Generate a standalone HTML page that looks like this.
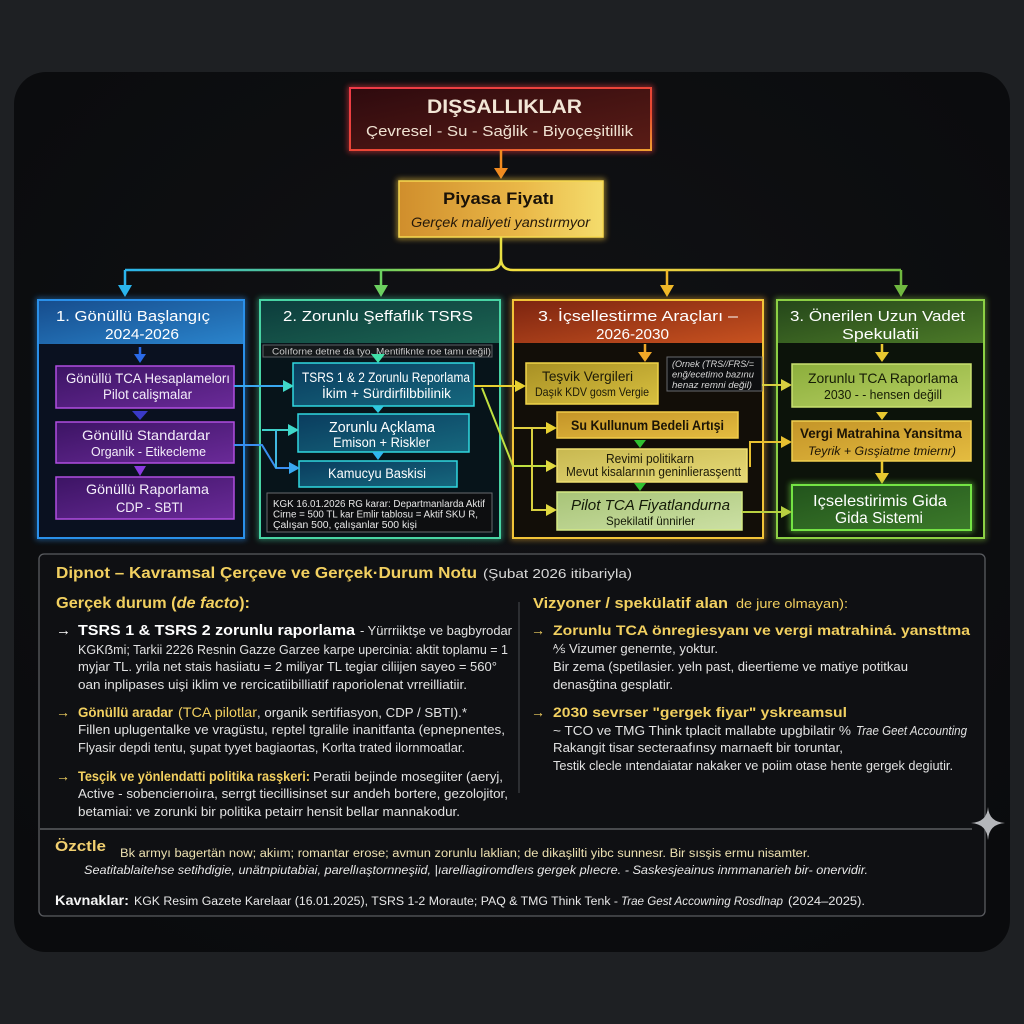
<!DOCTYPE html>
<html><head><meta charset="utf-8"><style>
html,body{margin:0;padding:0;background:#1e2023;}
svg{display:block;}
text{font-family:"Liberation Sans","DejaVu Sans",sans-serif;}
</style></head><body>
<svg width="1024" height="1024" viewBox="0 0 1024 1024" xmlns="http://www.w3.org/2000/svg">
<defs>
<filter id="glow" x="-20%" y="-20%" width="140%" height="140%"><feGaussianBlur stdDeviation="3"/></filter>
<linearGradient id="gRed" x1="0" y1="0" x2="1" y2="1"><stop offset="0" stop-color="#2e0a0e"/><stop offset="1" stop-color="#5a1c16"/></linearGradient>
<linearGradient id="gRedS" x1="0" y1="0" x2="1" y2="1"><stop offset="0" stop-color="#f03a48"/><stop offset="0.7" stop-color="#e84a30"/><stop offset="1" stop-color="#f0a030"/></linearGradient>
<linearGradient id="gGold" x1="0" y1="0" x2="1" y2="0"><stop offset="0" stop-color="#d08e2c"/><stop offset="0.6" stop-color="#eab848"/><stop offset="1" stop-color="#f4dc6c"/></linearGradient>
<linearGradient id="gConn" gradientUnits="userSpaceOnUse" x1="125" y1="0" x2="901" y2="0"><stop offset="0" stop-color="#2ab4ec"/><stop offset="0.33" stop-color="#6cd060"/><stop offset="0.5" stop-color="#f4e040"/><stop offset="0.72" stop-color="#e8d040"/><stop offset="1" stop-color="#70b840"/></linearGradient>
<linearGradient id="h1" x1="0" y1="0" x2="1" y2="1"><stop offset="0" stop-color="#164c8c"/><stop offset="1" stop-color="#2a84cc"/></linearGradient>
<linearGradient id="h2" x1="0" y1="0" x2="1" y2="1"><stop offset="0" stop-color="#0c3c3c"/><stop offset="1" stop-color="#1c6452"/></linearGradient>
<linearGradient id="h3" x1="0" y1="0" x2="1" y2="1"><stop offset="0" stop-color="#7c2410"/><stop offset="1" stop-color="#c85220"/></linearGradient>
<linearGradient id="h4" x1="0" y1="0" x2="1" y2="1"><stop offset="0" stop-color="#24461a"/><stop offset="1" stop-color="#4c7a28"/></linearGradient>
<linearGradient id="bP" x1="0" y1="0" x2="1" y2="1"><stop offset="0" stop-color="#3c1464"/><stop offset="1" stop-color="#6a2a98"/></linearGradient>
<linearGradient id="bT" x1="0" y1="0" x2="1" y2="1"><stop offset="0" stop-color="#0a3c5e"/><stop offset="1" stop-color="#16687e"/></linearGradient>
<linearGradient id="bY" x1="0" y1="0" x2="1" y2="1"><stop offset="0" stop-color="#a89024"/><stop offset="1" stop-color="#d8c040"/></linearGradient>
<linearGradient id="bG" x1="0" y1="0" x2="1" y2="1"><stop offset="0" stop-color="#c49428"/><stop offset="1" stop-color="#e4bc40"/></linearGradient>
<linearGradient id="bLY" x1="0" y1="0" x2="1" y2="1"><stop offset="0" stop-color="#c8b850"/><stop offset="1" stop-color="#e6da78"/></linearGradient>
<linearGradient id="bLG" x1="0" y1="0" x2="1" y2="1"><stop offset="0" stop-color="#a8c478"/><stop offset="1" stop-color="#cce0a4"/></linearGradient>
<linearGradient id="bZG" x1="0" y1="0" x2="1" y2="1"><stop offset="0" stop-color="#8cae3c"/><stop offset="1" stop-color="#b8d064"/></linearGradient>
<linearGradient id="bDG" x1="0" y1="0" x2="1" y2="1"><stop offset="0" stop-color="#22541c"/><stop offset="1" stop-color="#3c7a2a"/></linearGradient>
<radialGradient id="panel" cx="0.5" cy="0.4" r="0.7"><stop offset="0" stop-color="#111215"/><stop offset="1" stop-color="#0a0b0d"/></radialGradient>
</defs>

<rect x="0" y="0" width="1024" height="1024" fill="#1e2023"/>
<rect x="14" y="72" width="996" height="880" rx="32" fill="url(#panel)"/>

<!-- Top box -->
<rect x="350" y="88" width="301" height="62" fill="none" stroke="#f03a40" stroke-width="4" filter="url(#glow)" opacity="0.7"/>
<rect x="350" y="88" width="301" height="62" fill="url(#gRed)" stroke="url(#gRedS)" stroke-width="2"/>
<text x="427" y="113" font-size="19" font-weight="bold" fill="#f2e6d6" textLength="155" lengthAdjust="spacingAndGlyphs">DIŞSALLIKLAR</text>
<text x="366" y="136" font-size="15" fill="#f0e2d2" textLength="267" lengthAdjust="spacingAndGlyphs">Çevresel - Su - Sağlik - Biyoçeşitillik</text>

<line x1="501" y1="150" x2="501" y2="170" stroke="#f08a20" stroke-width="2.5"/>
<polygon points="494,168 508,168 501,179" fill="#f08a20"/>

<!-- Piyasa -->
<rect x="399" y="181" width="204" height="56" fill="none" stroke="#f5c840" stroke-width="4" filter="url(#glow)" opacity="0.7"/>
<rect x="399" y="181" width="204" height="56" fill="url(#gGold)" stroke="#f6d850" stroke-width="1.5"/>
<text x="443" y="204" font-size="17" font-weight="bold" fill="#1a1208" textLength="111" lengthAdjust="spacingAndGlyphs">Piyasa Fiyatı</text>
<text x="411" y="227" font-size="14" font-style="italic" fill="#24180a" textLength="179" lengthAdjust="spacingAndGlyphs">Gerçek maliyeti yanstırmyor</text>

<!-- main connector -->
<path d="M501,237 V258 Q501,270 489,270 H125 M501,258 Q501,270 513,270 H901" fill="none" stroke="url(#gConn)" stroke-width="2.5"/>
<line x1="125" y1="270" x2="125" y2="288" stroke="#2ab4ec" stroke-width="2.5"/>
<polygon points="118,285 132,285 125,297" fill="#2ab4ec"/>
<line x1="381" y1="270" x2="381" y2="288" stroke="#6cd060" stroke-width="2.5"/>
<polygon points="374,285 388,285 381,297" fill="#6cd060"/>
<line x1="667" y1="270" x2="667" y2="288" stroke="#f0b828" stroke-width="2.5"/>
<polygon points="660,285 674,285 667,297" fill="#f0b828"/>
<line x1="901" y1="270" x2="901" y2="288" stroke="#70b840" stroke-width="2.5"/>
<polygon points="894,285 908,285 901,297" fill="#70b840"/>

<!-- Column 1 -->
<rect x="38" y="300" width="206" height="238" fill="none" stroke="#2a8ee8" stroke-width="4" filter="url(#glow)" opacity="0.6"/>
<rect x="38" y="300" width="206" height="238" fill="#0a1120"/>
<rect x="38" y="300" width="206" height="44" fill="url(#h1)"/>
<rect x="38" y="300" width="206" height="238" fill="none" stroke="#2a90ea" stroke-width="2"/>
<text x="56" y="321" font-size="15" fill="#ffffff" textLength="154" lengthAdjust="spacingAndGlyphs">1. Gönüllü Başlangıç</text>
<text x="105" y="339" font-size="15" fill="#ffffff" textLength="74" lengthAdjust="spacingAndGlyphs">2024-2026</text>
<line x1="140" y1="347" x2="140" y2="356" stroke="#2a6ae8" stroke-width="2.5"/>
<polygon points="134,354 146,354 140,363" fill="#2a6ae8"/>

<rect x="56" y="366" width="178" height="42" fill="url(#bP)" stroke="#b04ee0" stroke-width="1.5"/>
<text x="66" y="383" font-size="13.5" fill="#f4eefa" textLength="164" lengthAdjust="spacingAndGlyphs">Gönüllü TCA Hesaplamelorı</text>
<text x="103" y="399" font-size="13.5" fill="#f4eefa" textLength="89" lengthAdjust="spacingAndGlyphs">Pilot calişmalar</text>
<polygon points="132,411 148,411 140,420" fill="#3a3ac8"/>

<rect x="56" y="422" width="178" height="41" fill="url(#bP)" stroke="#b04ee0" stroke-width="1.5"/>
<text x="82" y="440" font-size="14" fill="#f4eefa" textLength="128" lengthAdjust="spacingAndGlyphs">Gönüllü Standardar</text>
<text x="91" y="456" font-size="12.5" fill="#f4eefa" textLength="115" lengthAdjust="spacingAndGlyphs">Organik - Etikecleme</text>
<polygon points="134,466 146,466 140,476" fill="#8a3ae0"/>

<rect x="56" y="477" width="178" height="42" fill="url(#bP)" stroke="#b04ee0" stroke-width="1.5"/>
<text x="86" y="494" font-size="14" fill="#f4eefa" textLength="123" lengthAdjust="spacingAndGlyphs">Gönüllü Raporlama</text>
<text x="116" y="512" font-size="14" fill="#f4eefa" textLength="67" lengthAdjust="spacingAndGlyphs">CDP - SBTI</text>

<!-- Column 2 -->
<rect x="260" y="300" width="240" height="238" fill="none" stroke="#40d0a0" stroke-width="4" filter="url(#glow)" opacity="0.6"/>
<rect x="260" y="300" width="240" height="238" fill="#07141a"/>
<rect x="260" y="300" width="240" height="43" fill="url(#h2)"/>
<rect x="260" y="300" width="240" height="238" fill="none" stroke="#48d4a4" stroke-width="2"/>
<text x="283" y="321" font-size="15" fill="#ffffff" textLength="190" lengthAdjust="spacingAndGlyphs">2. Zorunlu Şeffaflık TSRS</text>
<rect x="263" y="345" width="229" height="12" fill="#14181a" stroke="#5c6064" stroke-width="1"/>
<text x="272" y="354.5" font-size="9.5" fill="#c8c8c8" textLength="219" lengthAdjust="spacingAndGlyphs">Colıforne detne da tyo. Mentifiknte roe tamı değil)</text>
<polygon points="371,354 385,354 378,363" fill="#40e0a8"/>

<rect x="293" y="363" width="181" height="43" fill="url(#bT)" stroke="#30d8e0" stroke-width="1.5"/>
<text x="302" y="382" font-size="13.5" fill="#ffffff" textLength="168" lengthAdjust="spacingAndGlyphs">TSRS 1 &amp; 2 Zorunlu Reporlama</text>
<text x="322" y="398" font-size="13.5" fill="#ffffff" textLength="129" lengthAdjust="spacingAndGlyphs">İkim + Sürdirfilbbilinik</text>
<polygon points="372,406 384,406 378,413" fill="#30c8e0"/>

<rect x="298" y="414" width="171" height="38" fill="url(#bT)" stroke="#30d8e0" stroke-width="1.5"/>
<text x="329" y="432" font-size="14.5" fill="#ffffff" textLength="106" lengthAdjust="spacingAndGlyphs">Zorunlu Açklama</text>
<text x="333" y="447" font-size="14" fill="#ffffff" textLength="97" lengthAdjust="spacingAndGlyphs">Emison + Riskler</text>
<polygon points="372,452 384,452 378,460" fill="#30b8f0"/>

<rect x="299" y="461" width="158" height="26" fill="url(#bT)" stroke="#30d8e0" stroke-width="1.5"/>
<text x="328" y="478" font-size="13.5" fill="#ffffff" textLength="98" lengthAdjust="spacingAndGlyphs">Kamucyu Baskisi</text>

<rect x="267" y="493" width="225" height="39" fill="#0d0e10" stroke="#686a6e" stroke-width="1"/>
<text x="273" y="507" font-size="10" fill="#e8e8e8" textLength="212" lengthAdjust="spacingAndGlyphs">KGK 16.01.2026 RG karar: Departmanlarda Aktif</text>
<text x="273" y="517.5" font-size="10" fill="#e8e8e8" textLength="205" lengthAdjust="spacingAndGlyphs">Cirne = 500 TL kar Emlir tablosu = Aktif SKU R,</text>
<text x="273" y="528" font-size="10" fill="#e8e8e8" textLength="144" lengthAdjust="spacingAndGlyphs">Çalışan 500, çalışanlar 500 kişi</text>

<!-- connectors col1 -> col2 -->
<g fill="none" stroke-width="2">
<path d="M234,386 H285" stroke="#3aa8f0"/>
<path d="M234,445 H262 L276,468 H291" stroke="#3a8ef0"/>
<path d="M262,430 H290" stroke="#40d0c8"/>
<path d="M276,430 V468" stroke="#40b8e0"/>
</g>
<polygon points="283,380 283,392 294,386" fill="#40d8c8"/>
<polygon points="288,424 288,436 299,430" fill="#40d8c8"/>
<polygon points="289,462 289,474 300,468" fill="#3aa8f0"/>

<!-- Column 3 -->
<rect x="513" y="300" width="250" height="238" fill="none" stroke="#f0b030" stroke-width="4" filter="url(#glow)" opacity="0.6"/>
<rect x="513" y="300" width="250" height="238" fill="#120e08"/>
<rect x="513" y="300" width="250" height="43" fill="url(#h3)"/>
<rect x="513" y="300" width="250" height="238" fill="none" stroke="#f2c438" stroke-width="2"/>
<text x="538" y="321" font-size="15" fill="#ffffff" textLength="200" lengthAdjust="spacingAndGlyphs">3. İçsellestirme Araçları –</text>
<text x="596" y="339" font-size="15" fill="#ffffff" textLength="73" lengthAdjust="spacingAndGlyphs">2026-2030</text>
<line x1="645" y1="344" x2="645" y2="354" stroke="#f0a828" stroke-width="2.5"/>
<polygon points="638,352 652,352 645,362" fill="#f0a828"/>

<rect x="526" y="363" width="132" height="41" fill="url(#bY)" stroke="#f0d448" stroke-width="1.5"/>
<text x="542" y="381" font-size="14" fill="#1c1a08" textLength="91" lengthAdjust="spacingAndGlyphs">Teşvik Vergileri</text>
<text x="535" y="396" font-size="12" fill="#1c1a08" textLength="114" lengthAdjust="spacingAndGlyphs">Daşık KDV gosm Vergie</text>

<rect x="667" y="357" width="95" height="34" fill="#0d0e10" stroke="#686a6e" stroke-width="1"/>
<text x="672" y="367" font-size="9" font-style="italic" fill="#d8d8d8" textLength="82" lengthAdjust="spacingAndGlyphs">(Ornek (TRS//FRS/=</text>
<text x="672" y="377.5" font-size="9" font-style="italic" fill="#d8d8d8" textLength="82" lengthAdjust="spacingAndGlyphs">enğ/ecetimo bazınu</text>
<text x="672" y="388" font-size="9" font-style="italic" fill="#d8d8d8" textLength="80" lengthAdjust="spacingAndGlyphs">henaz remni değil)</text>

<rect x="557" y="412" width="181" height="26" fill="url(#bG)" stroke="#f2cc48" stroke-width="1.5"/>
<text x="571" y="430" font-size="14" font-weight="bold" fill="#1c1406" textLength="153" lengthAdjust="spacingAndGlyphs">Su Kullunum Bedeli Artışi</text>
<polygon points="634,440 646,440 640,448" fill="#30c030"/>

<rect x="557" y="449" width="190" height="33" fill="url(#bLY)" stroke="#f0e070" stroke-width="1.5"/>
<text x="606" y="463" font-size="12.5" fill="#1c1a08" textLength="88" lengthAdjust="spacingAndGlyphs">Revimi politikarn</text>
<text x="566" y="476" font-size="12.5" fill="#1c1a08" textLength="175" lengthAdjust="spacingAndGlyphs">Mevut kisalarının geninlierasşentt</text>
<polygon points="634,483 646,483 640,491" fill="#30c030"/>

<rect x="557" y="492" width="185" height="38" fill="url(#bLG)" stroke="#d4ea84" stroke-width="1.5"/>
<text x="571" y="510" font-size="15" font-style="italic" fill="#141a08" textLength="159" lengthAdjust="spacingAndGlyphs">Pilot TCA Fiyatlandurna</text>
<text x="606" y="525" font-size="12" fill="#141a08" textLength="89" lengthAdjust="spacingAndGlyphs">Spekilatif ünnirler</text>

<!-- connectors col2 -> col3 -->
<g fill="none" stroke-width="2">
<path d="M474,386 H518" stroke="#e8d030"/>
<path d="M482,388 L513,466 H549" stroke="#c0e040"/>
<path d="M513,428 H549" stroke="#e0d040"/>
<path d="M532,428 V510 H549" stroke="#d8d040"/>
</g>
<polygon points="515,380 515,392 526,386" fill="#e8d030"/>
<polygon points="546,422 546,434 557,428" fill="#e8d030"/>
<polygon points="546,460 546,472 557,466" fill="#e0d840"/>
<polygon points="546,504 546,516 557,510" fill="#e0d840"/>

<!-- Column 4 -->
<rect x="777" y="300" width="207" height="238" fill="none" stroke="#88cc40" stroke-width="4" filter="url(#glow)" opacity="0.6"/>
<rect x="777" y="300" width="207" height="238" fill="#0c130a"/>
<rect x="777" y="300" width="207" height="43" fill="url(#h4)"/>
<rect x="777" y="300" width="207" height="238" fill="none" stroke="#8cd044" stroke-width="2"/>
<text x="790" y="321" font-size="15" fill="#ffffff" textLength="175" lengthAdjust="spacingAndGlyphs">3. Önerilen Uzun Vadet</text>
<text x="842" y="339" font-size="15" fill="#ffffff" textLength="77" lengthAdjust="spacingAndGlyphs">Spekulatii</text>
<line x1="882" y1="344" x2="882" y2="354" stroke="#e8c830" stroke-width="2.5"/>
<polygon points="875,352 889,352 882,362" fill="#e8c830"/>

<rect x="792" y="364" width="179" height="43" fill="url(#bZG)" stroke="#c8e070" stroke-width="1.5"/>
<text x="808" y="383" font-size="14" fill="#161c06" textLength="150" lengthAdjust="spacingAndGlyphs">Zorunlu TCA Raporlama</text>
<text x="824" y="399" font-size="12.5" fill="#161c06" textLength="118" lengthAdjust="spacingAndGlyphs">2030 - - hensen değill</text>
<polygon points="876,412 888,412 882,420" fill="#e8c830"/>

<rect x="792" y="421" width="179" height="40" fill="url(#bG)" stroke="#f0d050" stroke-width="1.5"/>
<text x="800" y="438" font-size="14" font-weight="bold" fill="#1c1406" textLength="162" lengthAdjust="spacingAndGlyphs">Vergi Matrahina Yansitma</text>
<text x="808" y="455" font-size="12" font-style="italic" fill="#1c1406" textLength="148" lengthAdjust="spacingAndGlyphs">Teyrik + Gısşiatme tmiernr)</text>
<line x1="882" y1="461" x2="882" y2="475" stroke="#e8c830" stroke-width="2.5"/>
<polygon points="875,473 889,473 882,484" fill="#e8c830"/>

<rect x="792" y="485" width="179" height="45" fill="none" stroke="#70e040" stroke-width="4" filter="url(#glow)" opacity="0.7"/>
<rect x="792" y="485" width="179" height="45" fill="url(#bDG)" stroke="#74e444" stroke-width="2"/>
<text x="813" y="506" font-size="16" fill="#ffffff" textLength="134" lengthAdjust="spacingAndGlyphs">Içselestirimis Gida</text>
<text x="835" y="523" font-size="16" fill="#ffffff" textLength="88" lengthAdjust="spacingAndGlyphs">Gida Sistemi</text>

<!-- connectors col3 -> col4 -->
<g fill="none" stroke-width="2">
<path d="M762,385 H784" stroke="#d8d040"/>
<path d="M750,467 V442 H784" stroke="#e8c030"/>
<path d="M742,512 H784" stroke="#b8d040"/>
</g>
<polygon points="781,379 781,391 792,385" fill="#d8d040"/>
<polygon points="781,436 781,448 792,442" fill="#e8c030"/>
<polygon points="781,506 781,518 792,512" fill="#b8d040"/>

<!-- Footnote panel -->
<rect x="39" y="554" width="946" height="362" rx="5" fill="#0f1013" stroke="#5a5c60" stroke-width="1.3"/>
<line x1="40" y1="829" x2="972" y2="829" stroke="#6a6c70" stroke-width="1.3"/>
<line x1="519" y1="602" x2="519" y2="793" stroke="#3c3e42" stroke-width="1.3"/>
<path d="M988,807 Q989,822 1005,823 Q989,824 988,840 Q987,824 971,823 Q987,822 988,807 Z" fill="#b4b6ba"/>

<text x="56" y="578" font-size="16" font-weight="bold" fill="#f2d060" textLength="421" lengthAdjust="spacingAndGlyphs">Dipnot – Kavramsal Çerçeve ve Gerçek·Durum Notu</text>
<text x="483" y="578" font-size="13" fill="#d8d8d8" textLength="149" lengthAdjust="spacingAndGlyphs">(Şubat 2026 itibariyla)</text>

<text x="56" y="608" font-size="16" font-weight="bold" fill="#f2d060" textLength="194" lengthAdjust="spacingAndGlyphs">Gerçek durum (<tspan font-style="italic">de facto</tspan>):</text>

<g font-size="12.5" fill="#e2e2e2">
<text x="56" y="635" font-size="15" font-weight="bold" fill="#ffffff">→</text>
<text x="78" y="635" font-size="15" font-weight="bold" fill="#ffffff" textLength="277" lengthAdjust="spacingAndGlyphs">TSRS 1 &amp; TSRS 2 zorunlu raporlama</text>
<text x="360" y="635" textLength="152" lengthAdjust="spacingAndGlyphs">- Yürrriiktşe ve bagbyrodar</text>
<text x="78" y="654" textLength="430" lengthAdjust="spacingAndGlyphs">KGKẞmi; Tarkii 2226 Resnin Gazze Garzee karpe upercinia: aktit toplamu = 1</text>
<text x="78" y="671" textLength="419" lengthAdjust="spacingAndGlyphs">myjar TL. yrila net stais hasiiatu = 2 miliyar TL tegiar ciliijen sayeo = 560°</text>
<text x="78" y="689" textLength="389" lengthAdjust="spacingAndGlyphs">oan inplipases uişi iklim ve rercicatiibilliatif raporiolenat vrreilliatiir.</text>

<text x="56" y="717" font-size="14" font-weight="bold" fill="#f2d060">→</text>
<text x="78" y="717" font-size="14" font-weight="bold" fill="#f2d060" textLength="95" lengthAdjust="spacingAndGlyphs">Gönüllü aradar</text>
<text x="178" y="717" font-size="14" fill="#f2d060" textLength="79" lengthAdjust="spacingAndGlyphs">(TCA pilotlar</text>
<text x="257" y="717" font-size="13" textLength="210" lengthAdjust="spacingAndGlyphs">, organik sertifiasyon, CDP / SBTI).*</text>
<text x="78" y="734" textLength="427" lengthAdjust="spacingAndGlyphs">Fillen uplugentalke ve vragüstu, reptel tgralile inanitfanta (epnepnentes,</text>
<text x="78" y="752" textLength="387" lengthAdjust="spacingAndGlyphs">Flyasir depdi tentu, şupat tyyet bagiaortas, Korlta trated ilornmoatlar.</text>

<text x="56" y="781" font-size="14" font-weight="bold" fill="#f2d060">→</text>
<text x="78" y="781" font-size="14" font-weight="bold" fill="#f2d060" textLength="232" lengthAdjust="spacingAndGlyphs">Tesçik ve yönlendatti politika rasşkeri:</text>
<text x="313" y="781" font-size="13" textLength="190" lengthAdjust="spacingAndGlyphs">Peratii bejinde mosegiiter (aeryj,</text>
<text x="78" y="798" textLength="430" lengthAdjust="spacingAndGlyphs">Active - sobencierıoiıra, serrgt tiecillisinset sur andeh bortere, gezolojitor,</text>
<text x="78" y="816" textLength="382" lengthAdjust="spacingAndGlyphs">betamiai: ve zorunki bir politika petairr hensit bellar mannakodur.</text>
</g>

<text x="533" y="608" font-size="15" font-weight="bold" fill="#f2d060" textLength="195" lengthAdjust="spacingAndGlyphs">Vizyoner / spekülatif alan</text>
<text x="736" y="608" font-size="12.5" fill="#f2d060" textLength="112" lengthAdjust="spacingAndGlyphs">de jure olmayan):</text>

<g font-size="12.5" fill="#e2e2e2">
<text x="531" y="635" font-size="14" font-weight="bold" fill="#f2d060">→</text>
<text x="553" y="635" font-size="14" font-weight="bold" fill="#f2d060" textLength="417" lengthAdjust="spacingAndGlyphs">Zorunlu TCA önregiesyanı ve vergi matrahiná. yansttma</text>
<text x="553" y="653" textLength="165" lengthAdjust="spacingAndGlyphs">⅍ Vizumer genernte, yoktur.</text>
<text x="553" y="671" textLength="355" lengthAdjust="spacingAndGlyphs">Bir zema (spetilasier. yeln past, dieertieme ve matiye potitkau</text>
<text x="553" y="689" textLength="120" lengthAdjust="spacingAndGlyphs">denasğtina gesplatir.</text>

<text x="531" y="717" font-size="14" font-weight="bold" fill="#f2d060">→</text>
<text x="553" y="717" font-size="14" font-weight="bold" fill="#f2d060" textLength="294" lengthAdjust="spacingAndGlyphs">2030 sevrser "gergek fiyar" yskreamsul</text>
<text x="553" y="735" textLength="298" lengthAdjust="spacingAndGlyphs">~ TCO ve TMG Think tplacit mallabte upgbilatir %</text>
<text x="856" y="735" font-style="italic" textLength="111" lengthAdjust="spacingAndGlyphs">Trae Geet Accounting</text>
<text x="553" y="752" textLength="290" lengthAdjust="spacingAndGlyphs">Rakangit tisar secteraafınsy marnaeft bir toruntar,</text>
<text x="553" y="770" textLength="400" lengthAdjust="spacingAndGlyphs">Testik clecle ıntendaiatar nakaker ve poiim otase hente gergek degiutir.</text>
</g>

<text x="55" y="851" font-size="14.5" font-weight="bold" fill="#f2d070" textLength="51" lengthAdjust="spacingAndGlyphs">Özctle</text>
<text x="120" y="857" font-size="11.5" fill="#ece0b0" textLength="690" lengthAdjust="spacingAndGlyphs">Bk armyı bagertän now; akiım; romantar erose; avmun zorunlu laklian; de dikaşlilti yibc sunnesr. Bir sısşis ermu nisamter.</text>
<text x="84" y="874" font-size="11.5" font-style="italic" fill="#e8e8e8" textLength="784" lengthAdjust="spacingAndGlyphs">Seatitablaitehse setihdigie, unätnpiutabiai, parellıaştornneşiid, |ıarelliagiromdleıs gergek plıecre. - Saskesjeainus inmmanarieh bir- onervidir.</text>

<text x="55" y="905" font-size="14" font-weight="bold" fill="#f4f4f4" textLength="74" lengthAdjust="spacingAndGlyphs">Kavnaklar:</text>
<text x="134" y="905" font-size="11.5" fill="#e8e8e8" textLength="484" lengthAdjust="spacingAndGlyphs">KGK Resim Gazete Karelaar (16.01.2025), TSRS 1-2 Moraute; PAQ &amp; TMG Think Tenk -</text>
<text x="621" y="905" font-size="11.5" font-style="italic" fill="#e8e8e8" textLength="162" lengthAdjust="spacingAndGlyphs">Trae Gest Accowning Rosdlnap</text>
<text x="788" y="905" font-size="11.5" fill="#e8e8e8" textLength="77" lengthAdjust="spacingAndGlyphs">(2024–2025).</text>
</svg>
</body></html>
